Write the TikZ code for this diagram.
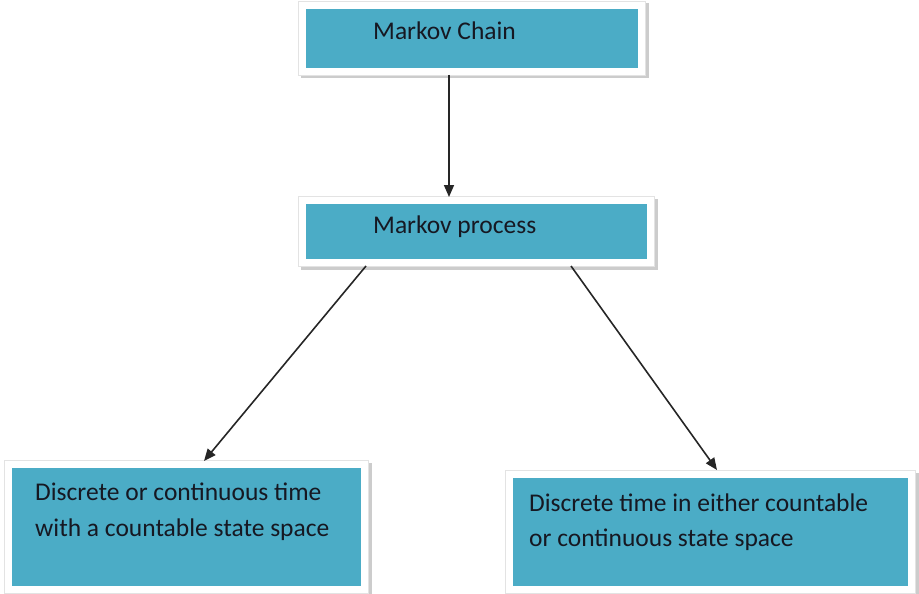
\documentclass[tikz,border=0pt]{standalone}
\usepackage{fontspec}
\setmainfont{Carlito}
\usetikzlibrary{calc,arrows.meta}
\definecolor{accent}{HTML}{4BACC6}
\definecolor{txt}{RGB}{22,24,34}
\tikzset{
  boxnode/.style={rectangle, inner sep=0pt, fill=accent, draw=white, line width=7pt,
    preaction={draw=gray!40, line width=9pt, transform canvas={shift={(2.5pt,-2.5pt)}}},
    preaction={draw=gray!22, line width=8.2pt}},
  lbl/.style={anchor=base west, inner sep=0pt, text=txt, font=\fontsize{25.5}{30}\selectfont},
  arr/.style={-{Triangle[length=12pt,width=10pt]}, line width=1.6pt, black!85}
}
\begin{document}
\begin{tikzpicture}[x=1pt,y=-1pt]
\useasboundingbox (0,0) rectangle (919,594);
\node[boxnode, minimum width=339pt, minimum height=66pt] (top) at (472,38.5) {};
\node[boxnode, minimum width=348pt, minimum height=62pt] (mid) at (476.5,231.5) {};
\node[boxnode, minimum width=356pt, minimum height=125pt] (bl) at (186.5,527) {};
\node[boxnode, minimum width=402pt, minimum height=115pt] (br) at (710.5,532) {};
\node[lbl] (t1) at (373,40) {Markov Chain};
\node[lbl] (t2) at (373,233) {Markov process};
\node[lbl] (t3a) at (35,500.5) {Discrete or continuous time};
\node[lbl] (t3b) at (35,536.5) {with a countable state space};
\node[lbl] (t4a) at (529,511.5) {Discrete time in either countable};
\node[lbl] (t4b) at (529,546.5) {or continuous state space};
\draw[arr] ($(top.south)+(-23,0)$) -- ($(mid.north)+(-27.5,0)$);
\draw[arr] ($(mid.south)+(-110.5,0)$) -- ($(bl.north)+(17.5,0)$);
\draw[arr] ($(mid.south)+(94.5,0)$) -- ($(br.north)+(6.5,-1)$);
\end{tikzpicture}
\end{document}
